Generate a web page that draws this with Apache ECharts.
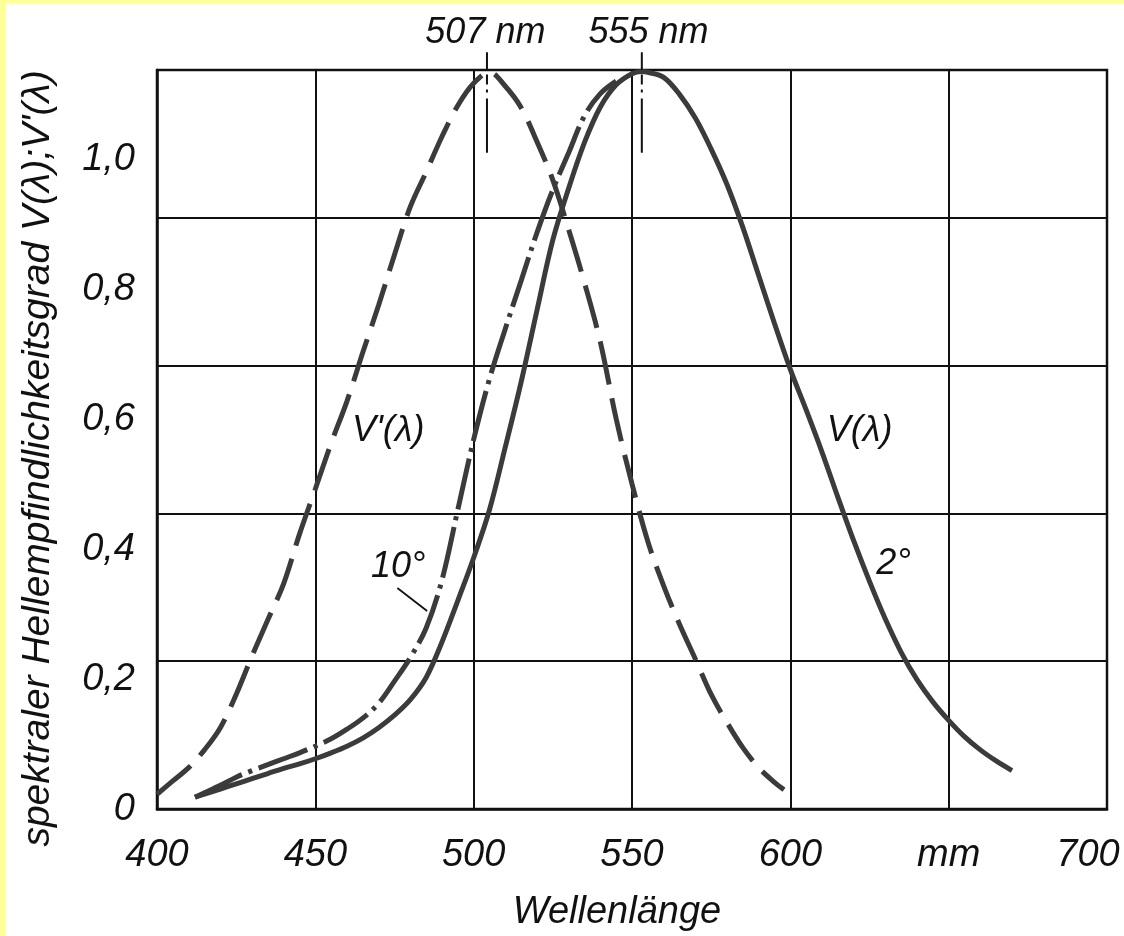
<!DOCTYPE html>
<html><head><meta charset="utf-8">
<script src="https://cdn.jsdelivr.net/npm/echarts@6/dist/echarts.min.js"></script>
<style>html,body{margin:0;padding:0;background:#fff}#c{width:1124px;height:936px}</style>
</head><body><div id="c"></div>
<script>
// ---- data ----
const xTicks = [400, 450, 500, 550, 600, 650, 700];
const xTickLabels = ['400', '450', '500', '550', '600', 'mm', '700'];
const yTickValues = [0, 0.2, 0.4, 0.6, 0.8, 1.0];
const yTickLabels = ['0', '0,2', '0,4', '0,6', '0,8', '1,0'];

// V'(λ) scotopic, dashed
const nmScotopic = [400,405,410,415,420,425,430,435,440,445,450,455,460,465,470,475,480,485,490,495,500,505,510,515,520,525,530,535,540,545,550,555,560,565,570,575,580,585,590,595,598];
const vScotopic  = [0.020,0.038,0.056,0.080,0.110,0.155,0.207,0.256,0.305,0.372,0.433,0.495,0.552,0.618,0.682,0.750,0.815,0.862,0.910,0.952,0.982,0.997,0.978,0.949,0.903,0.851,0.784,0.712,0.632,0.528,0.440,0.362,0.302,0.250,0.203,0.155,0.117,0.083,0.056,0.036,0.026];

// V(λ) 2° photopic, solid
const nmPhotopic2 = [412,415,420,425,430,435,440,445,450,455,460,465,470,475,480,485,490,495,500,505,510,515,520,525,530,535,540,545,550,553,555,560,565,570,575,580,585,590,595,600,605,610,615,620,625,630,635,640,645,650,655,660,665,670];
const vPhotopic2  = [0.016,0.020,0.027,0.034,0.041,0.048,0.055,0.061,0.068,0.076,0.085,0.096,0.110,0.127,0.148,0.178,0.226,0.282,0.340,0.405,0.490,0.578,0.675,0.770,0.840,0.902,0.950,0.980,0.995,0.998,0.997,0.990,0.967,0.935,0.893,0.845,0.787,0.722,0.657,0.595,0.540,0.483,0.422,0.363,0.308,0.257,0.212,0.175,0.145,0.120,0.098,0.080,0.065,0.052];

// V(λ) 10° photopic, dash-dot
const nmPhotopic10 = [412,415,420,425,430,435,440,445,450,455,460,465,470,475,480,485,490,495,500,505,510,515,520,525,530,535,540,545];
const vPhotopic10  = [0.016,0.022,0.032,0.043,0.052,0.060,0.068,0.076,0.085,0.095,0.108,0.123,0.143,0.173,0.205,0.245,0.310,0.405,0.500,0.582,0.650,0.715,0.780,0.838,0.888,0.938,0.968,0.985];

const peakLabels = ['507 nm', '555 nm'];
const peakMarkerNm = [504.2, 553.1];

// ---- chart ----
const FONT = '"Liberation Sans", Arial, Helvetica, sans-serif';
const INK = '#111111';
const CURVE = '#3b3b3b';
const zip = (xs, ys) => xs.map((x, i) => [x, ys[i]]);

function yLabel(v) {
  const i = yTickValues.findIndex(t => Math.abs(t - v) < 1e-6);
  return i >= 0 ? yTickLabels[i] : '';
}
function xLabel(v) {
  const i = xTicks.indexOf(Math.round(v));
  if (i < 0) return '';
  return i === xTicks.length - 1 ? '{r|' + xTickLabels[i] + '}' : xTickLabels[i];
}

const baseText = { fontFamily: FONT, fontStyle: 'italic', color: INK };

const option = {
  backgroundColor: '#ffffff',
  animation: false,
  grid: { left: 157, right: 17, top: 70, bottom: 125, show: true, borderColor: INK, borderWidth: 2.5, backgroundColor: 'transparent' },
  xAxis: {
    type: 'value', min: 400, max: 700, interval: 50,
    axisLine: { show: true, lineStyle: { color: INK, width: 2.5 } },
    axisTick: { show: false },
    splitLine: { show: true, lineStyle: { color: INK, width: 2 } },
    axisLabel: Object.assign({}, baseText, { fontSize: 38, margin: 27, formatter: xLabel,
      rich: { r: Object.assign({}, baseText, { fontSize: 38, padding: [0, 38, 0, 0] }) } }),
    name: 'Wellenlänge', nameLocation: 'middle', nameGap: 84,
    nameTextStyle: Object.assign({}, baseText, { fontSize: 38, padding: [0, 30, 0, 0] })
  },
  yAxis: [
    {
      type: 'value', min: 0, max: 1, interval: 0.2,
      axisLine: { show: true, lineStyle: { color: INK, width: 2.5 } },
      axisTick: { show: false }, axisLabel: { show: false },
      splitLine: { show: true, lineStyle: { color: INK, width: 2 } }
    },
    {
      type: 'value', position: 'left', min: 0, max: 1.138, interval: 0.2,
      axisLine: { show: false }, axisTick: { show: false }, splitLine: { show: false },
      axisLabel: Object.assign({}, baseText, { fontSize: 38, margin: 22, padding: [7, 0, 0, 0], formatter: yLabel }),
      name: "spektraler Hellempfindlichkeitsgrad V(λ);V'(λ)", nameLocation: 'middle', nameGap: 99,
      nameTextStyle: Object.assign({}, baseText, { fontSize: 39, padding: [0, 38, 0, 0] })
    }
  ],
  series: [
    { name: "V'(λ)", type: 'line', yAxisIndex: 0, data: zip(nmScotopic, vScotopic), smooth: 0.35, showSymbol: false,
      lineStyle: { color: CURVE, width: 5, type: [44, 14], cap: 'butt' } },
    { name: 'V(λ) 10°', type: 'line', yAxisIndex: 0, data: zip(nmPhotopic10, vPhotopic10), smooth: 0.35, showSymbol: false,
      lineStyle: { color: CURVE, width: 5, type: [52, 7, 4, 7], cap: 'butt' } },
    { name: 'V(λ) 2°', type: 'line', yAxisIndex: 0, data: zip(nmPhotopic2, vPhotopic2), smooth: 0.35, showSymbol: false,
      lineStyle: { color: CURVE, width: 5, type: 'solid' } }
  ]
};

const chart = echarts.init(document.getElementById('c'), null, { renderer: 'canvas' });
chart.setOption(option);

const px = (x, y) => chart.convertToPixel({ xAxisIndex: 0, yAxisIndex: 0 }, [x, y]);
const graphic = [
  { type: 'rect', shape: { x: 0, y: 0, width: 5, height: 936 }, style: { fill: '#FFFF99' }, z: 100 },
  { type: 'rect', shape: { x: 0, y: 0, width: 1124, height: 3 }, style: { fill: '#FFFF99' }, z: 100 }
];
function addText(text, nm, v, size) {
  const p = px(nm, v);
  graphic.push({ type: 'text', x: p[0], y: p[1], z: 50,
    style: { text: text, fontFamily: FONT, fontStyle: 'italic', fontSize: size, fill: INK, align: 'center', verticalAlign: 'middle' } });
}
function addLine(a, b, dash, w) {
  const p1 = px(a[0], a[1]), p2 = px(b[0], b[1]);
  graphic.push({ type: 'line', z: 50, shape: { x1: p1[0], y1: p1[1], x2: p2[0], y2: p2[1] },
    style: { stroke: INK, lineWidth: w, lineDash: dash } });
}
// peak markers
peakMarkerNm.forEach((nm) => {
  addLine([nm, 1.024], [nm, 1.0], null, 2);
  addLine([nm, 0.994], [nm, 0.888], [10, 5, 3, 6, 100], 2);
});
addText(peakLabels[0], 503.7, 1.050, 36);
addText(peakLabels[1], 555.2, 1.050, 36);
// curve labels
addText("V'(λ)", 473.0, 0.512, 36);
addText('10°', 476.2, 0.328, 36);
addLine([475.9, 0.299], [485.3, 0.268], null, 1.8);
addText('V(λ)', 621.9, 0.512, 36);
addText('2°', 632.6, 0.331, 36);
chart.setOption({ graphic: graphic });
</script>
</body></html>
